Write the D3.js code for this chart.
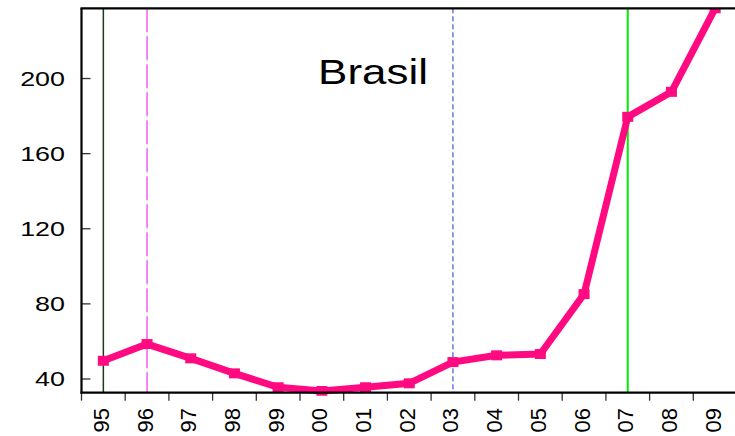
<!DOCTYPE html>
<html>
<head>
<meta charset="utf-8">
<script src="https://cdn.jsdelivr.net/npm/d3@7"></script>
<style>
  html, body { margin: 0; padding: 0; background: #fff; }
  svg { display: block; }
  text { font-family: "Liberation Sans", Arial, sans-serif; fill: #000; }
</style>
</head>
<body>
<svg id="chart" width="735" height="436"></svg>
<script>
// Years (two-digit labels) and the Brasil series
const years = ["95","96","97","98","99","00","01","02","03","04","05","06","07","08","09"];
const values = [49.7, 58.6, 51.0, 43.0, 35.6, 33.6, 35.6, 37.7, 49.0, 52.6, 53.3, 85.2, 179.6, 192.9, 237.4];
const yTicks = [40, 80, 120, 160, 200];
const title = "Brasil";

// Reference markers: year, colour, dash pattern, width
const markerYears = ["95", "96", "03", "07"];
const markerColors = ["#1c3a1c", "#f060f0", "#5060f0", "#00ee00"];
const markerDashes = [null, "24,4", "5,3", null];
const markerWidths = [1.5, 1.5, 1.3, 2];

const W = 735, H = 436;
const plotLeft = 81.5, plotRight = 737, plotTop = 8.3, plotBottom = 392.7;
const textStretch = 1.28;

const svg = d3.select("#chart");

const x = d3.scaleBand().domain(years).range([plotLeft, plotRight]).paddingInner(0).paddingOuter(0);
const y = d3.scaleLinear().domain([32.7, 237.4]).range([plotBottom, plotTop]);
const cx = d => x(d) + x.bandwidth() / 2;

svg.append("defs").append("clipPath").attr("id", "plotClip")
  .append("rect").attr("x", plotLeft).attr("y", plotTop)
  .attr("width", plotRight - plotLeft).attr("height", plotBottom - plotTop + 3);

// vertical reference lines
markerYears.forEach((yr, i) => {
  svg.append("line")
    .attr("x1", cx(yr)).attr("x2", cx(yr))
    .attr("y1", plotTop).attr("y2", plotBottom)
    .attr("stroke", markerColors[i])
    .attr("stroke-width", markerWidths[i])
    .attr("stroke-dasharray", markerDashes[i]);
});

// series line and square markers
const pts = years.map((yr, i) => [cx(yr), y(values[i])]);
const g = svg.append("g").attr("clip-path", "url(#plotClip)");
g.append("path")
  .attr("d", d3.line()(pts))
  .attr("fill", "none")
  .attr("stroke", "#ff0a80")
  .attr("stroke-width", 7)
  .attr("stroke-linejoin", "miter");
g.selectAll("rect.pt").data(pts).join("rect")
  .attr("class", "pt")
  .attr("x", d => d[0] - 5.5).attr("y", d => d[1] - 5)
  .attr("width", 11).attr("height", 10)
  .attr("fill", "#ff0a80");

// y axis: ticks pointing inward, labels on the left
yTicks.forEach(t => {
  svg.append("line")
    .attr("x1", plotLeft).attr("x2", plotLeft + 9)
    .attr("y1", y(t)).attr("y2", y(t))
    .attr("stroke", "#333").attr("stroke-width", 1.3);
  svg.append("text")
    .attr("transform", `translate(65,${y(t)}) scale(${textStretch},1)`)
    .attr("text-anchor", "end")
    .attr("dominant-baseline", "central")
    .attr("font-size", 21)
    .text(t);
});

// x axis: ticks at band edges, rotated labels at band centres
years.forEach(yr => {
  svg.append("line")
    .attr("x1", x(yr)).attr("x2", x(yr))
    .attr("y1", plotBottom).attr("y2", plotBottom + 8)
    .attr("stroke", "#333").attr("stroke-width", 1.3);
  svg.append("text")
    .attr("transform", `translate(${cx(yr) - 2},408) rotate(-90)`)
    .attr("text-anchor", "end")
    .attr("dominant-baseline", "central")
    .attr("font-size", 22)
    .text(yr);
});

// frame: left, top and bottom edges
svg.append("line").attr("x1", plotLeft).attr("x2", plotLeft).attr("y1", plotTop).attr("y2", plotBottom + 1)
  .attr("stroke", "#000").attr("stroke-width", 2.2);
svg.append("line").attr("x1", plotLeft - 1).attr("x2", W).attr("y1", plotTop).attr("y2", plotTop)
  .attr("stroke", "#000").attr("stroke-width", 2.2);
svg.append("line").attr("x1", plotLeft - 1).attr("x2", W).attr("y1", plotBottom).attr("y2", plotBottom)
  .attr("stroke", "#000").attr("stroke-width", 2.2);

// title
svg.append("text")
  .attr("transform", `translate(373,84) scale(1.22,1)`)
  .attr("text-anchor", "middle")
  .attr("font-size", 36)
  .text(title);
</script>
</body>
</html>
